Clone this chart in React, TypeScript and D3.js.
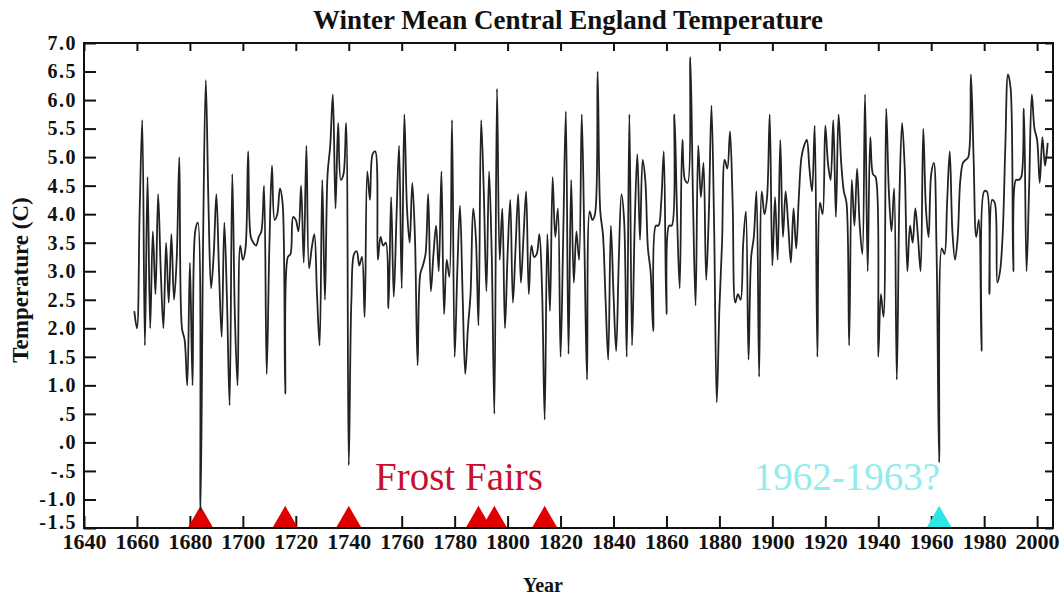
import React, { useEffect, useRef } from "react";
import * as d3 from "d3";

// winter (DJF) mean temperature, one value per year from startYear
const startYear = 1659;
const winterTemps = [
  2.3,
  2.0, 4.0, 5.65, 1.7, 4.65, 2.0, 3.7, 2.6, 4.35, 3.0,
  2.0, 3.5, 2.45, 3.65, 2.5, 3.2, 5.0, 2.0, 1.8, 1.0,
  3.15, 1.0, 3.7, 3.85, -1.2, 3.6, 6.35, 4.2, 2.7, 3.3,
  4.35, 3.0, 1.85, 3.85, 2.5, 0.65, 4.7, 2.2, 1.0, 3.45,
  3.2, 3.4, 5.1, 3.6, 3.5, 3.45, 3.6, 3.7, 4.5, 1.2,
  3.4, 4.85, 3.9, 4.0, 4.45, 4.2, 0.85, 3.25, 3.3, 3.95,
  3.9, 3.7, 4.5, 3.15, 5.2, 3.05, 3.4, 3.65, 2.6, 1.7,
  4.6, 2.5, 4.7, 5.2, 6.1, 4.1, 5.6, 4.6, 4.7, 5.6,
  -0.4, 2.5, 3.3, 3.35, 3.1, 3.25, 2.2, 4.75, 4.25, 5.05,
  5.1, 3.2, 3.6, 3.45, 3.5, 2.35, 4.3, 2.55, 3.9, 5.2,
  2.7, 5.75, 4.1, 3.5, 4.55, 3.6, 1.35, 2.95, 3.1, 3.3,
  4.35, 2.65, 3.3, 3.8, 3.0, 4.75, 2.25, 3.2, 2.9, 5.65,
  1.5, 3.0, 4.15, 2.6, 1.2, 2.0, 2.6, 4.1, 3.6, 2.05,
  5.65, 4.4, 2.65, 4.75, 3.3, 0.5, 6.2, 3.2, 4.1, 2.0,
  3.3, 4.25, 2.45, 3.4, 4.35, 2.8, 3.6, 4.4, 2.6, 3.45,
  3.25, 3.3, 3.65, 2.7, 0.4, 3.65, 2.3, 4.65, 3.6, 4.1,
  1.5, 3.6, 5.8, 1.55, 4.6, 2.8, 3.7, 3.2, 5.75, 3.5,
  1.1, 4.05, 3.9, 4.0, 6.5, 4.05, 3.65, 2.5, 1.45, 3.8,
  2.6, 1.6, 3.2, 4.35, 3.9, 1.5, 5.75, 1.7, 3.8, 5.05,
  3.55, 4.95, 4.6, 3.4, 3.0, 1.95, 3.8, 3.8, 4.2, 5.1,
  2.25, 3.8, 3.8, 5.75, 4.0, 2.7, 5.3, 4.6, 4.55, 6.75,
  4.3, 2.4, 5.2, 4.3, 4.9, 2.85, 4.0, 5.9, 3.8, 0.7,
  2.35, 3.5, 4.95, 4.8, 5.45, 4.2, 2.45, 2.6, 2.5, 3.5,
  4.05, 1.45, 3.25, 3.6, 4.4, 1.15, 4.4, 4.0, 4.3, 5.75,
  3.1, 4.3, 3.2, 5.3, 3.6, 4.4, 3.8, 3.15, 4.1, 3.4,
  4.3, 5.0, 5.2, 5.3, 4.8, 4.4, 5.55, 1.5, 4.2, 4.0,
  5.55, 4.9, 4.6, 5.65, 3.95, 5.75, 4.9, 4.4, 4.2, 1.7,
  4.6, 3.8, 4.8, 3.8, 3.3, 6.1, 3.0, 5.35, 4.7, 4.65,
  1.5, 2.6, 2.2, 5.85, 4.4, 3.7, 4.45, 1.1, 4.3, 5.6,
  4.8, 3.0, 3.8, 3.5, 4.1, 3.6, 3.0, 5.5, 4.1, 3.6,
  4.7, 4.9, 3.4, -0.35, 3.4, 3.3, 4.2, 5.1, 3.7, 3.2,
  3.6, 4.6, 4.9, 4.95, 5.0, 6.45, 5.0, 3.6, 3.9, 1.6,
  4.4, 4.4, 2.6, 4.25, 4.2, 2.8, 3.0, 3.65, 5.2, 6.45,
  6.2, 3.0, 4.6, 4.6, 4.65, 5.85, 3.0, 4.5, 6.1, 5.5,
  5.3, 4.55, 5.35, 4.85, 5.25,
];

const frostFairYears = [1684, 1716, 1740, 1789, 1795, 1814];
const modernColdYears = [1963];

const xTicks = [1640, 1660, 1680, 1700, 1720, 1740, 1760, 1780, 1800, 1820, 1840, 1860, 1880, 1900, 1920, 1940, 1960, 1980, 2000];
const yTicks = [-1.5, -1, -0.5, 0, 0.5, 1, 1.5, 2, 2.5, 3, 3.5, 4, 4.5, 5, 5.5, 6, 6.5, 7];
const yTickLabels = ["-1.5", "-1.0", "-.5", ".0", ".5", "1.0", "1.5", "2.0", "2.5", "3.0", "3.5", "4.0", "4.5", "5.0", "5.5", "6.0", "6.5", "7.0"];

const W = 1063;
const H = 601;

const App = () => {
  const ref = useRef<SVGSVGElement>(null);

  useEffect(() => {
    const margin = { top: 43, left: 84, bottom: 73, right: 10 };
    const svg = d3.select(ref.current);
    svg.selectAll("*").remove();

    const x = d3.scaleLinear().domain([1640, 2006]).range([margin.left, W - margin.right]);
    const y = d3.scaleLinear().domain([-1.5, 7]).range([H - margin.bottom, margin.top]);
    const serif = "'Liberation Serif', 'Times New Roman', serif";

    // frame
    svg.append("rect")
      .attr("x", margin.left).attr("y", margin.top)
      .attr("width", W - margin.right - margin.left)
      .attr("height", H - margin.bottom - margin.top)
      .attr("fill", "none").attr("stroke", "#111").attr("stroke-width", 2);

    // axes with inward ticks
    const styleAxis = (g: any, size: string) => {
      g.select(".domain").remove();
      g.selectAll(".tick line").attr("stroke", "#111").attr("stroke-width", 2);
      g.selectAll("text").attr("fill", "#111")
        .style("font-family", serif).style("font-weight", "bold").style("font-size", size);
    };

    svg.append("g")
      .attr("transform", `translate(0, ${H - margin.bottom})`)
      .call(d3.axisBottom(x).tickValues(xTicks).tickFormat(d3.format("d")).tickSize(-12).tickPadding(5))
      .call((g) => styleAxis(g, "22px"));

    svg.append("g")
      .attr("transform", `translate(0, ${margin.top})`)
      .call(d3.axisTop(x).tickValues(xTicks).tickFormat(() => "").tickSize(-8))
      .call((g) => styleAxis(g, "22px"));

    const yAxisG = svg.append("g")
      .attr("transform", `translate(${margin.left}, 0)`)
      .call(d3.axisLeft(y).tickValues(yTicks).tickFormat((d, i) => yTickLabels[i]).tickSize(-12).tickPadding(7))
      .call((g) => styleAxis(g, "20px"));
    yAxisG.selectAll("text").style("letter-spacing", "1.5px");
    // lift the bottom label a little off the year labels
    yAxisG.selectAll(".tick").filter((d) => d === -1.5).select("text").attr("y", -6);

    svg.append("g")
      .attr("transform", `translate(${W - margin.right}, 0)`)
      .call(d3.axisRight(y).tickValues(yTicks).tickFormat(() => "").tickSize(-8))
      .call((g) => styleAxis(g, "22px"));

    // annotations
    svg.append("text")
      .attr("x", 459).attr("y", 490)
      .attr("text-anchor", "middle")
      .style("font-family", serif).style("font-size", "39px")
      .attr("fill", "#c8102e")
      .text("Frost Fairs");

    svg.append("text")
      .attr("x", 847).attr("y", 490)
      .attr("text-anchor", "middle")
      .style("font-family", serif).style("font-size", "39px")
      .attr("fill", "#93ecec")
      .text("1962-1963?");

    const tri = d3.symbol().type(d3.symbolTriangle).size(260);
    svg.append("g").selectAll("path")
      .data(frostFairYears).enter().append("path")
      .attr("d", tri)
      .attr("transform", (d) => `translate(${x(d)}, ${H - margin.bottom - 8})`)
      .attr("fill", "#e00000");

    svg.append("g").selectAll("path")
      .data(modernColdYears).enter().append("path")
      .attr("d", tri)
      .attr("transform", (d) => `translate(${x(d)}, ${H - margin.bottom - 8})`)
      .attr("fill", "#2ee6e6");

    // temperature line
    svg.append("clipPath").attr("id", "plotClip")
      .append("rect")
      .attr("x", margin.left).attr("y", margin.top)
      .attr("width", W - margin.right - margin.left)
      .attr("height", H - margin.bottom - margin.top);

    const line = d3.line<number>()
      .x((d, i) => x(startYear + i))
      .y((d) => y(d))
      .curve(d3.curveCatmullRom.alpha(0.5));

    svg.append("path")
      .datum(winterTemps)
      .attr("clip-path", "url(#plotClip)")
      .attr("d", line)
      .attr("fill", "none")
      .attr("stroke", "#222")
      .attr("stroke-width", 1.8)
      .attr("stroke-linejoin", "round");

    // titles
    svg.append("text")
      .attr("x", 568).attr("y", 29)
      .attr("text-anchor", "middle")
      .style("font-family", serif).style("font-weight", "bold").style("font-size", "27px")
      .attr("fill", "#111")
      .text("Winter Mean Central England Temperature");

    svg.append("text")
      .attr("transform", "translate(28, 280) rotate(-90)")
      .attr("text-anchor", "middle")
      .style("font-family", serif).style("font-weight", "bold").style("font-size", "23px")
      .attr("fill", "#111")
      .text("Temperature (C)");

    svg.append("text")
      .attr("x", 543).attr("y", 592)
      .attr("text-anchor", "middle")
      .style("font-family", serif).style("font-weight", "bold").style("font-size", "20px")
      .attr("fill", "#111")
      .text("Year");
  }, []);

  return (
    <div>
      <svg ref={ref} width={W} height={H} style={{ position: "absolute", left: 0, top: 0, background: "#fff" }} />
    </div>
  );
};

export default App;
